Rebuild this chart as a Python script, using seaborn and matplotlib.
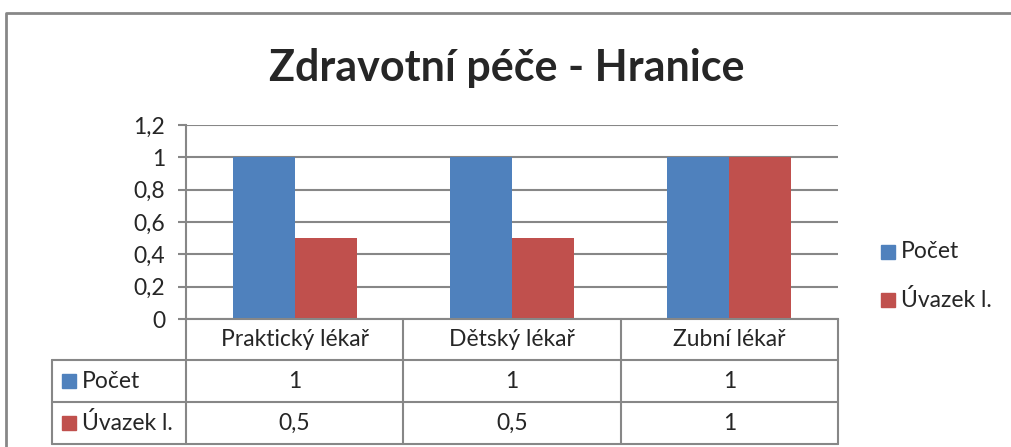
import matplotlib
matplotlib.use("Agg")
import matplotlib.pyplot as plt
import matplotlib.transforms as mtransforms
from matplotlib.patches import Rectangle
import seaborn as sns
import pandas as pd

# Data
categories = ["Praktický lékař", "Dětský lékař", "Zubní lékař"]
series_names = ["Počet", "Úvazek l."]
pocet = [1, 1, 1]
uvazek = [0.5, 0.5, 1]
table_labels_pocet = ["1", "1", "1"]
table_labels_uvazek = ["0,5", "0,5", "1"]
yticks = [0, 0.2, 0.4, 0.6, 0.8, 1.0, 1.2]
ytick_labels = ["0", "0,2", "0,4", "0,6", "0,8", "1", "1,2"]
colors = ["#4F81BD", "#C0504D"]
grid_col = "#878787"

df = pd.DataFrame({
    "kategorie": categories * 2,
    "serie": [series_names[0]] * 3 + [series_names[1]] * 3,
    "hodnota": pocet + uvazek,
})

sns.set_style("white")
plt.rcParams["font.family"] = ["Lato", "DejaVu Sans"]

W, H = 1012, 447
fig = plt.figure(figsize=(W / 100, H / 100), dpi=100)

def fx(px):
    return px / W

def fy(py):
    return 1 - py / H

left, right, top, bottom = 186, 838, 125, 319
ax = fig.add_axes([fx(left), fy(bottom), fx(right) - fx(left), fy(top) - fy(bottom)])

sns.barplot(data=df, x="kategorie", y="hodnota", hue="serie", order=categories,
            hue_order=series_names, palette=colors, width=0.57, saturation=1,
            ax=ax, legend=False, linewidth=0)

ax.set_xlim(-0.5, len(categories) - 0.5)
ax.set_ylim(0, 1.2)
ax.set_yticks(yticks)
ax.set_yticklabels(ytick_labels, fontsize=16.5)
ax.yaxis.grid(True, color=grid_col, linewidth=1.5)
ax.set_axisbelow(True)
ax.tick_params(axis="y", length=6, width=1.5, color=grid_col, pad=9, left=True)
ax.set_xticks([])
ax.set_xlabel("")
ax.set_ylabel("")
for s in ["top", "right"]:
    ax.spines[s].set_visible(False)
ax.spines["left"].set_color(grid_col)
ax.spines["left"].set_linewidth(1.5)
ax.spines["bottom"].set_color(grid_col)
ax.spines["bottom"].set_linewidth(1.5)

# Data table below the plot area
trans = mtransforms.blended_transform_factory(ax.transData, fig.transFigure)
row_y = [319, 360, 402, 444]
bounds = [i - 0.5 for i in range(len(categories) + 1)]
lw = 1.5
# horizontal lines
for py in row_y[1:]:
    fig.add_artist(plt.Line2D([fx(52), fx(right)], [fy(py), fy(py)], color=grid_col,
                              linewidth=lw, transform=fig.transFigure))
# vertical lines of category columns
for b in bounds:
    fig.add_artist(plt.Line2D([b, b], [fy(row_y[0]), fy(row_y[-1])], color=grid_col,
                              linewidth=lw, transform=trans, clip_on=False))
fig.add_artist(plt.Line2D([fx(52), fx(52)], [fy(row_y[1]), fy(row_y[-1])], color=grid_col,
                          linewidth=lw, transform=fig.transFigure))

fs = 16.5
for i, cat in enumerate(categories):
    fig.text(i, fy((row_y[0] + row_y[1]) / 2), cat, transform=trans, ha="center",
             va="center", fontsize=fs)
    fig.text(i, fy((row_y[1] + row_y[2]) / 2), table_labels_pocet[i], transform=trans,
             ha="center", va="center", fontsize=fs)
    fig.text(i, fy((row_y[2] + row_y[3]) / 2), table_labels_uvazek[i], transform=trans,
             ha="center", va="center", fontsize=fs)

# legend keys in the table
for k, name in enumerate(series_names):
    cy = (row_y[k + 1] + row_y[k + 2]) / 2
    fig.add_artist(Rectangle((fx(62), fy(cy + 7)), fx(14), fy(cy - 7) - fy(cy + 7),
                             color=colors[k], transform=fig.transFigure))
    fig.text(fx(82), fy(cy), name, ha="left", va="center", fontsize=fs)

# legend on the right
for k, name in enumerate(series_names):
    cy = [252, 300][k]
    fig.add_artist(Rectangle((fx(881), fy(cy + 7)), fx(14), fy(cy - 7) - fy(cy + 7),
                             color=colors[k], transform=fig.transFigure))
    fig.text(fx(901), fy(cy), name, ha="left", va="center", fontsize=fs)

# title
fig.text(fx(507), fy(68), "Zdravotní péče - Hranice", ha="center", va="center",
         fontsize=31, fontweight="bold")

# chart frame
fig.add_artist(plt.Line2D([fx(6), fx(6), fx(1012)], [fy(447), fy(13), fy(13)],
                          color=grid_col, linewidth=2, transform=fig.transFigure))

fig.savefig("out.png", dpi=100)
